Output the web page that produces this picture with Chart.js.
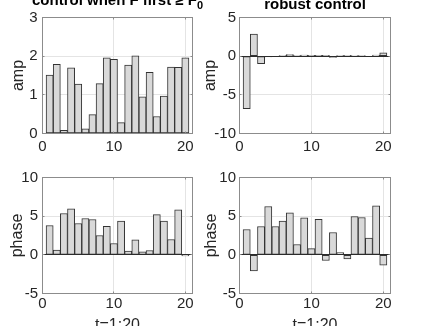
<!DOCTYPE html>
<html>
<head>
<meta charset="utf-8">
<script src="https://cdn.jsdelivr.net/npm/chart.js@4/dist/chart.umd.min.js"></script>
<style>
html, body { margin: 0; padding: 0; background: #fff; overflow: hidden; }
#wrap { position: relative; width: 422px; height: 326px; }
#wrap canvas { position: absolute; left: 0; top: 0; }
</style>
</head>
<body>
<div id="wrap">
  <canvas id="ampControl" width="422" height="340"></canvas>
  <canvas id="ampRobust" width="422" height="340"></canvas>
  <canvas id="phaseControl" width="422" height="340"></canvas>
  <canvas id="phaseRobust" width="422" height="340"></canvas>
</div>
<script>
// t = 1:20
const steps = [1, 2, 3, 4, 5, 6, 7, 8, 9, 10, 11, 12, 13, 14, 15, 16, 17, 18, 19, 20];

// values
const ampControl = [1.51, 1.79, 0.08, 1.70, 1.28, 0.12, 0.49, 1.29, 1.96, 1.92, 0.28, 1.77, 2.01, 0.95, 1.58, 0.44, 0.97, 1.72, 1.71, 1.96];
const ampRobust = [-6.8, 2.86, -0.98, -0.1, -0.05, 0.02, 0.2, 0.02, 0.15, 0.1, 0.1, 0.1, -0.15, 0.02, 0.12, 0.08, 0.05, -0.05, 0.15, 0.43];
const phaseControl = [3.79, 0.6, 5.34, 5.95, 4.05, 4.7, 4.57, 2.5, 3.7, 1.47, 4.35, 0.47, 1.94, 0.39, 0.56, 5.2, 4.35, 1.98, 5.82, -0.13];
const phaseRobust = [3.28, -2.07, 3.66, 6.25, 3.66, 4.35, 5.43, 1.34, 4.78, 0.8, 4.6, -0.73, 2.89, 0.3, -0.52, 4.96, 4.83, 2.16, 6.34, -1.34];

// tick labels
const xTicks = [0, 10, 20];
const ampControlTicks = [0, 1, 2, 3];
const ampRobustTicks = [-10, -5, 0, 5];
const phaseTicks = [-5, 0, 5, 10];

const FONT = "'Liberation Sans', Arial, Helvetica, sans-serif";
const TEXT = '#262626';
const CANVAS_W = 422, CANVAS_H = 340;

// box, zero baseline, inward ticks and the bold title, like a matlab axes
const matlabAxes = {
  id: 'matlabAxes',
  afterDatasetsDraw(chart, args, opts) {
    const { ctx, chartArea: a, scales: { x, y } } = chart;
    ctx.save();
    ctx.lineWidth = 1;

    const y0 = Math.round(y.getPixelForValue(0) - 0.5) + 0.5;
    ctx.strokeStyle = '#2b2b2b';
    ctx.beginPath();
    ctx.moveTo(a.left, y0);
    ctx.lineTo(a.right, y0);
    ctx.stroke();

    ctx.strokeStyle = '#8c8c8c';
    ctx.strokeRect(a.left, a.top, a.right - a.left, a.bottom - a.top);
    ctx.beginPath();
    x.ticks.forEach(t => {
      const px = Math.round(x.getPixelForValue(t.value) - 0.5) + 0.5;
      ctx.moveTo(px, a.bottom); ctx.lineTo(px, a.bottom - 2);
      ctx.moveTo(px, a.top); ctx.lineTo(px, a.top + 2);
    });
    y.ticks.forEach(t => {
      const py = Math.round(y.getPixelForValue(t.value) - 0.5) + 0.5;
      ctx.moveTo(a.left, py); ctx.lineTo(a.left + 2, py);
      ctx.moveTo(a.right, py); ctx.lineTo(a.right - 2, py);
    });
    ctx.stroke();

    if (opts.title) {
      ctx.fillStyle = '#000';
      ctx.textBaseline = 'alphabetic';
      ctx.textAlign = 'left';
      ctx.font = 'bold 15px ' + FONT;
      const w1 = ctx.measureText(opts.title).width;
      let w2 = 0;
      if (opts.sub) {
        ctx.font = 'bold 11px ' + FONT;
        w2 = ctx.measureText(opts.sub).width;
      }
      const cx = (a.left + a.right) / 2;
      const x1 = cx - (w1 + w2) / 2;
      ctx.font = 'bold 15px ' + FONT;
      ctx.fillText(opts.title, x1, opts.baseline);
      if (opts.sub) {
        ctx.font = 'bold 11px ' + FONT;
        ctx.fillText(opts.sub, x1 + w1, opts.baseline + 4);
      }
    }
    ctx.restore();
  }
};

function drawPanel(id, values, yTicks, p) {
  const yWidth = 40;
  return new Chart(document.getElementById(id), {
    type: 'bar',
    data: {
      datasets: [{
        data: steps.map((t, i) => ({ x: t, y: values[i] })),
        backgroundColor: '#d9d9d9',
        borderColor: '#333333',
        borderWidth: 1,
        borderSkipped: false,
        barPercentage: 1,
        categoryPercentage: 1
      }]
    },
    options: {
      responsive: false,
      animation: false,
      events: [],
      layout: {
        padding: {
          left: p.left - yWidth,
          top: p.top,
          right: CANVAS_W - p.right,
          bottom: CANVAS_H - p.bottom - p.xHeight
        }
      },
      plugins: {
        legend: { display: false },
        tooltip: { enabled: false },
        matlabAxes: { title: p.title, sub: p.sub, baseline: p.titleBaseline }
      },
      scales: {
        x: {
          type: 'linear',
          offset: false,
          min: 0,
          max: 21,
          afterBuildTicks: s => { s.ticks = xTicks.map(v => ({ value: v })); },
          afterFit: s => { s.height = p.xHeight; s.paddingLeft = 0; s.paddingRight = 0; },
          grid: { color: '#e4e4e4', drawTicks: false, offset: false },
          border: { display: false },
          ticks: { color: TEXT, font: { family: FONT, size: 15 }, padding: p.xPad, maxRotation: 0, autoSkip: false },
          title: {
            display: !!p.xlabel,
            text: p.xlabel || '',
            color: TEXT,
            font: { family: FONT, size: 16 },
            padding: { top: 0, bottom: -1.6 }
          }
        },
        y: {
          min: yTicks[0],
          max: yTicks[yTicks.length - 1],
          afterBuildTicks: s => { s.ticks = yTicks.map(v => ({ value: v })); },
          afterFit: s => { s.width = yWidth; s.paddingTop = 0; s.paddingBottom = 0; },
          grid: { color: '#e4e4e4', drawTicks: false },
          border: { display: false },
          ticks: { color: TEXT, font: { family: FONT, size: 15 }, padding: p.yPad },
          title: {
            display: true,
            text: p.ylabel,
            color: TEXT,
            font: { family: FONT, size: 16 },
            padding: { top: p.ylabelPad, bottom: 0 }
          }
        }
      }
    },
    plugins: [matlabAxes]
  });
}

drawPanel('ampControl', ampControl, ampControlTicks, {
  left: 42.5, right: 192.5, top: 17.5, bottom: 133.5, xHeight: 30, xPad: 4.5, yPad: 5,
  ylabel: 'amp', ylabelPad: 6.4, title: 'control when F first \u2265 F', sub: '0', titleBaseline: 5
});
drawPanel('ampRobust', ampRobust, ampRobustTicks, {
  left: 239.5, right: 390.5, top: 17.5, bottom: 133.5, xHeight: 30, xPad: 4.5, yPad: 3.5,
  ylabel: 'amp', ylabelPad: 1.9, title: 'robust control', titleBaseline: 9
});
drawPanel('phaseControl', phaseControl, phaseTicks, {
  left: 42.5, right: 192.5, top: 177.5, bottom: 293.5, xHeight: 40, xPad: 1, yPad: 4.5,
  ylabel: 'phase', ylabelPad: 5.4, xlabel: 't=1:20'
});
drawPanel('phaseRobust', phaseRobust, phaseTicks, {
  left: 239.5, right: 390.5, top: 177.5, bottom: 293.5, xHeight: 40, xPad: 1, yPad: 3.5,
  ylabel: 'phase', ylabelPad: 2.4, xlabel: 't=1:20'
});
</script>
</body>
</html>
